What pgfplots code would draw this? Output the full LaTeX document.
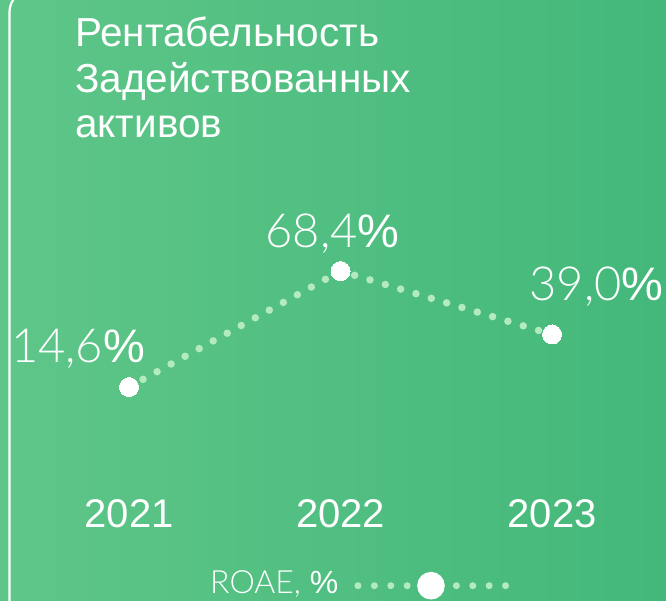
\documentclass[border=0pt]{standalone}
\usepackage{fontspec}
\setmainfont{Liberation Sans}
\IfFontExistsTF{Lato Light}{\newfontfamily\thinfont{Lato Light}}{%
  \IfFontExistsTF{Fira Sans Light}{\newfontfamily\thinfont{Fira Sans Light}}{%
    \IfFontExistsTF{Open Sans Light}{\newfontfamily\thinfont{Open Sans Light}}{%
      \newfontfamily\thinfont{Liberation Sans}}}}
\usepackage{pgfplots}
\pgfplotsset{compat=1.18}
\definecolor{bgL}{HTML}{5EC688}
\definecolor{bgR}{HTML}{43B87A}
\definecolor{dotgreen}{HTML}{B3EBBE}
\newcommand{\lbl}{\fontsize{47}{47}\selectfont}
\begin{document}
\begin{tikzpicture}[x=1pt,y=1pt]
\useasboundingbox (0,0) rectangle (666,601);
\shade[left color=bgL, right color=bgR] (0,0) rectangle (666,601);
\draw[white, line width=2.2pt] (9.5,-5) -- (9.5,589) arc[start angle=180,end angle=90,radius=22] -- (700,611);
\node[anchor=base west, inner sep=0, text=white, font=\fontsize{40.5}{40}\selectfont] at (75,554) {Рентабельность};
\node[anchor=base west, inner sep=0, text=white, font=\fontsize{40.5}{40}\selectfont] at (75,508) {Задействованных};
\node[anchor=base west, inner sep=0, text=white, font=\fontsize{40.5}{40}\selectfont] at (75,463) {активов};
\begin{axis}[
  at={(0,0)}, anchor=south west, scale only axis,
  width=666pt, height=601pt,
  xmin=-0.610, xmax=2.539, ymin=-84.6, ymax=194.1,
  axis line style={draw=none}, tick style={draw=none},
  ytick=\empty, xtick={0,1,2}, xticklabels={2021,2022,2023},
  xticklabel style={anchor=base, yshift=73pt, text=white, font=\fontsize{40}{40}\selectfont},
  clip=false,
  legend plot pos=right,
  legend style={at={(axis description cs:0.3123,0.0283)}, anchor=west, draw=none, fill=none,
    text=white, font=\fontsize{32}{32}\selectfont, inner xsep=0pt},
]
\addplot[line width=7.5pt, line cap=round, dash pattern=on 0pt off 16pt, draw=dotgreen,
  mark=*, mark size=9.5pt, mark options={solid, line width=0pt, fill=white, draw=white},
  legend image code/.code={
    \path (0pt,0pt);
    \draw[solid, line width=7pt, line cap=round, dash pattern=on 0pt off 16.4pt, draw=dotgreen] (14pt,-3pt) -- (162pt,-3pt);
    \fill[solid, white] (87pt,-3pt) circle (10pt);
  }] coordinates {(0,14.6) (1,68.4) (2,39.0)};
\addlegendentry{{\thinfont ROAE,} \%}
\addplot[forget plot, draw=none, mark=none, nodes near coords={{\thinfont 14,6}\%},
  every node near coord/.append style={anchor=base, inner sep=0, xshift=-51pt, yshift=25pt, text=white, font=\lbl}]
  coordinates {(0,14.6)};
\addplot[forget plot, draw=none, mark=none, nodes near coords={{\thinfont 68,4}\%},
  every node near coord/.append style={anchor=base, inner sep=0, xshift=-8pt, yshift=24pt, text=white, font=\lbl}]
  coordinates {(1,68.4)};
\addplot[forget plot, draw=none, mark=none, nodes near coords={{\thinfont 39,0}\%},
  every node near coord/.append style={anchor=base, inner sep=0, xshift=44.5pt, yshift=34pt, text=white, font=\lbl}]
  coordinates {(2,39.0)};
\end{axis}
\end{tikzpicture}
\end{document}
